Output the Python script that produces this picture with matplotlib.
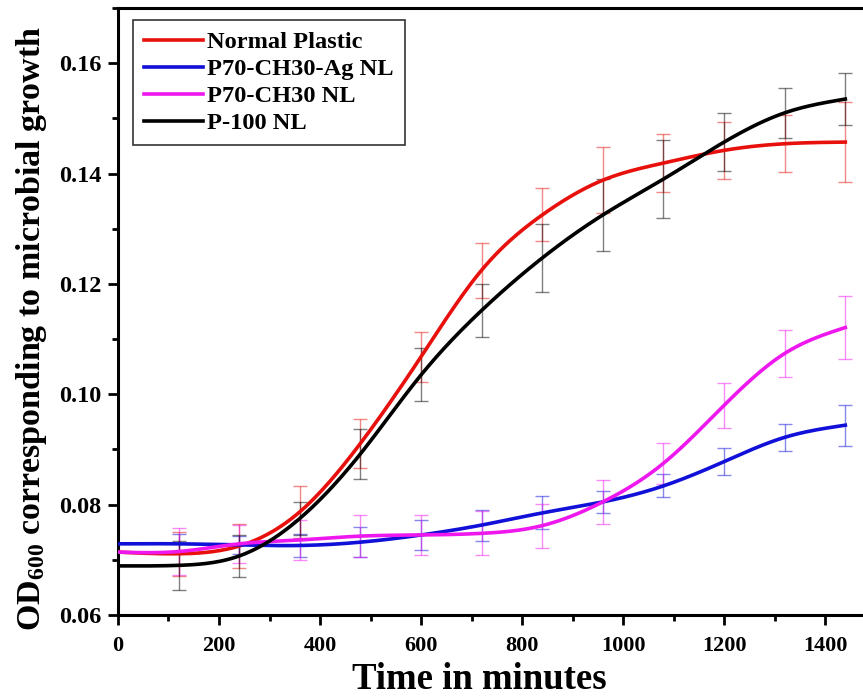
#Growth curves (OD600) for the four plastics, mean +/- error every 120 min
import matplotlib
matplotlib.use('Agg')
import matplotlib.pyplot as plt
import numpy as np

#DATA
time_min = [0, 120, 240, 360, 480, 600, 720, 840, 960, 1080, 1200, 1320, 1440]

normal = [0.0714, 0.0711, 0.0725, 0.0787, 0.0911, 0.1068, 0.1225, 0.1325, 0.1388, 0.1419, 0.1442, 0.1454, 0.1457]
normal_err = [0.0, 0.0040, 0.0040, 0.0047, 0.0045, 0.0045, 0.0050, 0.0048, 0.0060, 0.0052, 0.0052, 0.0052, 0.0072]

ag_nl = [0.0729, 0.0729, 0.0727, 0.0726, 0.0732, 0.0745, 0.0763, 0.0785, 0.0805, 0.0834, 0.0878, 0.0922, 0.0944]
ag_nl_err = [0.0, 0.0017, 0.0017, 0.0020, 0.0027, 0.0027, 0.0028, 0.0030, 0.0020, 0.0021, 0.0024, 0.0025, 0.0037]

ch30_nl = [0.0714, 0.0715, 0.0729, 0.0736, 0.0743, 0.0745, 0.0748, 0.0762, 0.0805, 0.0875, 0.0980, 0.1074, 0.1121]
ch30_nl_err = [0.0, 0.0043, 0.0035, 0.0036, 0.0038, 0.0037, 0.0040, 0.0040, 0.0040, 0.0037, 0.0041, 0.0043, 0.0057]

p100 = [0.0689, 0.0690, 0.0707, 0.0775, 0.0892, 0.1035, 0.1152, 0.1247, 0.1325, 0.1390, 0.1457, 0.1510, 0.1535]
p100_err = [0.0, 0.0045, 0.0038, 0.0030, 0.0045, 0.0048, 0.0048, 0.0062, 0.0065, 0.0070, 0.0053, 0.0045, 0.0047]

labels = ['Normal Plastic', 'P70-CH30-Ag NL', 'P70-CH30 NL', 'P-100 NL']
colors = ['#e8100c', '#1010d8', '#ee18ee', '#000000']


def smooth(x, y, n=300):
    #natural cubic spline through the points, only used to draw the curve
    x = np.asarray(x, float)
    y = np.asarray(y, float)
    k = len(x)
    h = np.diff(x)
    A = np.zeros((k, k))
    b = np.zeros(k)
    A[0, 0] = A[-1, -1] = 1
    for i in range(1, k - 1):
        A[i, i - 1] = h[i - 1]
        A[i, i] = 2 * (h[i - 1] + h[i])
        A[i, i + 1] = h[i]
        b[i] = 6 * ((y[i + 1] - y[i]) / h[i] - (y[i] - y[i - 1]) / h[i - 1])
    M = np.linalg.solve(A, b)
    xs = np.linspace(x[0], x[-1], n)
    j = np.clip(np.searchsorted(x, xs) - 1, 0, k - 2)
    t0 = x[j + 1] - xs
    t1 = xs - x[j]
    hj = h[j]
    ys = (M[j] * t0**3 + M[j + 1] * t1**3) / (6 * hj) \
        + (y[j] / hj - M[j] * hj / 6) * t0 + (y[j + 1] / hj - M[j + 1] * hj / 6) * t1
    return xs, ys


#STYLE
plt.rcParams['font.family'] = 'Liberation Serif'
plt.rcParams['font.weight'] = 'bold'
plt.rcParams['mathtext.fontset'] = 'custom'
plt.rcParams['mathtext.rm'] = 'Liberation Serif:bold'
plt.rcParams['mathtext.it'] = 'Liberation Serif:bold'
plt.rcParams['mathtext.bf'] = 'Liberation Serif:bold'

fig = plt.figure(figsize=(8.63, 7.0), dpi=100)
ax = fig.add_axes([0.1367, 0.1214, 0.8633, 0.8672])

series = [(normal, normal_err), (ag_nl, ag_nl_err), (ch30_nl, ch30_nl_err), (p100, p100_err)]
for (vals, errs), lab, col in zip(series, labels, colors):
    #no error bar drawn at t = 0
    ax.errorbar(time_min[1:], vals[1:], yerr=errs[1:], fmt='none', ecolor=col, alpha=0.5,
                elinewidth=1.0, capsize=4.7, capthick=1.0, zorder=2)
    xs, ys = smooth(time_min, vals)
    ax.plot(xs, ys, color=col, lw=2.6, label=lab, zorder=3)

ax.set_xlim(0, 1475)
ax.set_ylim(0.06, 0.17)
ax.set_xticks(np.arange(0, 1401, 200))
ax.set_xticks(np.arange(100, 1401, 200), minor=True)
ax.set_yticks(np.arange(0.06, 0.161, 0.02))
ax.set_yticks(np.arange(0.07, 0.171, 0.02), minor=True)
ax.yaxis.set_major_formatter(plt.FormatStrFormatter('%.2f'))

for s in ['left', 'bottom', 'top']:
    ax.spines[s].set_linewidth(2.2)
ax.spines['right'].set_visible(False)
ax.tick_params(which='major', direction='out', length=7, width=2)
ax.tick_params(which='minor', direction='out', length=4, width=2)
ax.tick_params(axis='x', which='major', labelsize=16, pad=8)
ax.tick_params(axis='y', which='major', labelsize=17.5, pad=5)

ax.set_xlabel('Time in minutes', fontsize=26.5, fontweight='bold')
ax.set_ylabel('OD$_{600}$ corresponding to microbial growth', fontsize=24.5,
              fontweight='bold')
ax.xaxis.set_label_coords(0.4846, -0.078)
ax.yaxis.set_label_coords(-0.093, 0.472)

leg = ax.legend(loc='upper left', bbox_to_anchor=(0.020, 0.980), fontsize=17.6,
                frameon=True, fancybox=False, edgecolor='black', handlelength=2.4,
                handletextpad=0.2, borderpad=0.45, labelspacing=0.2, borderaxespad=0)
leg.get_frame().set_linewidth(1.2)

plt.savefig('out.png', dpi=100)
